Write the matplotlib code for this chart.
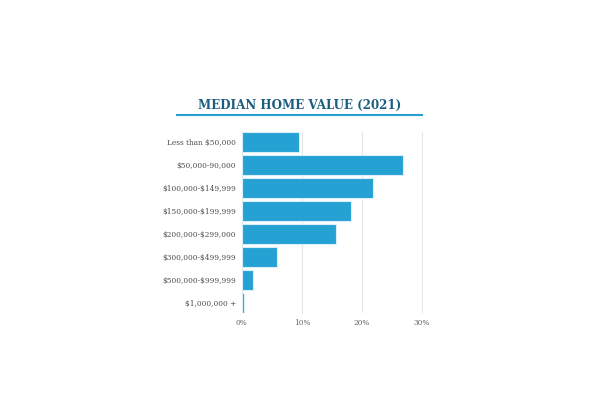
import matplotlib
matplotlib.use("Agg")
import matplotlib.pyplot as plt
from matplotlib.lines import Line2D

kategorie = ["Less than $50,000", "$50,000-90,000", "$100,000-$149,999",
             "$150,000-$199,999", "$200,000-$299,000", "$300,000-$499,999",
             "$500,000-$999,999", "$1,000,000 +"]
procenty = [9.6, 26.8, 21.8, 18.1, 15.6, 5.9, 1.8, 0.4]
ticki_x = [0, 10, 20, 30]
etykiety_x = ["0%", "10%", "20%", "30%"]

kolor_slupka = "#26a1d3"
kolor_tytulu = "#1b5e80"

fig = plt.figure(figsize=(6, 4.2), dpi=100)
ax = fig.add_axes([0.403, 0.2548, 0.3025, 0.4316])

pozycje = list(range(len(kategorie)))
ax.barh(pozycje, procenty, height=0.88, color=kolor_slupka,
        edgecolor="#d8eef8", linewidth=0.8, zorder=3)

ax.set_ylim(len(kategorie) - 0.55, -0.45)
ax.set_xlim(0, 30.2)
ax.set_yticks(pozycje)
ax.set_yticklabels(kategorie, family="DejaVu Serif", fontsize=5.3,
                   color="#4d4d4d", parse_math=False)
ax.set_xticks(ticki_x)
ax.set_xticklabels(etykiety_x, family="DejaVu Serif", fontsize=5.3, color="#666666")
ax.tick_params(length=0, pad=4)
ax.grid(axis="x", color="#e6e6e6", linewidth=0.8, zorder=0)
for s in ax.spines.values():
    s.set_visible(False)

# tytul z podkresleniem
fig.text(0.5, 1 - 105 / 420, "MEDIAN HOME VALUE (2021)", ha="center", va="center",
         family="DejaVu Serif", fontweight="bold", fontsize=8.6, color=kolor_tytulu)
fig.add_artist(Line2D([177 / 600, 422 / 600], [1 - 115 / 420, 1 - 115 / 420],
                      color=kolor_slupka, linewidth=1.5))

fig.savefig("out.png", dpi=100)
